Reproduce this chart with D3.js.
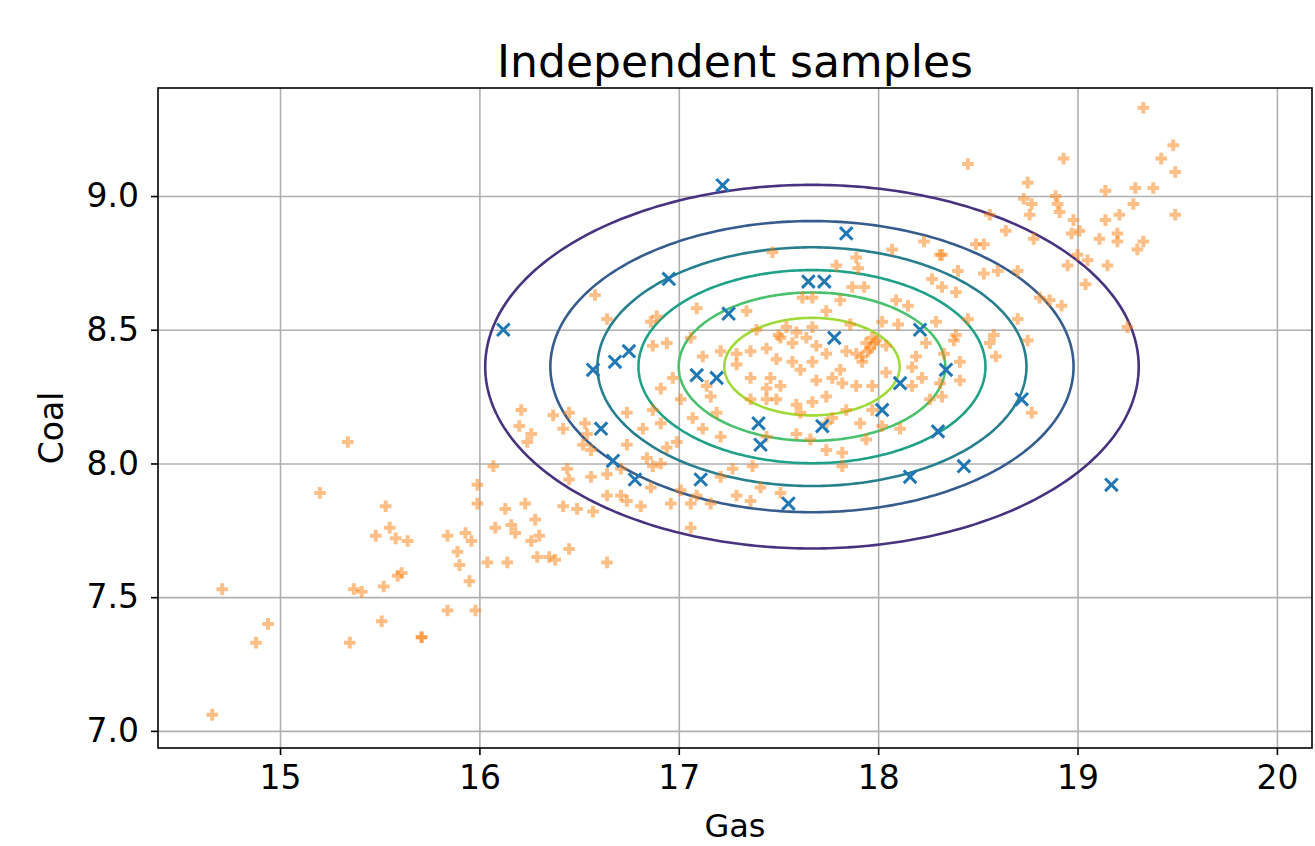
<!DOCTYPE html>
<html><head><meta charset="utf-8">
<script src="https://cdn.jsdelivr.net/npm/d3@7"></script>
<style>body{margin:0;background:#fff}svg{display:block}text{font-family:"DejaVu Sans",sans-serif;fill:#000}</style>
</head><body><svg id="c" width="1315" height="846"></svg>
<script>
const title = "Independent samples";
const xLabel = "Gas", yLabel = "Coal";
const xTicks = [15, 16, 17, 18, 19, 20];
const yTicks = [7.0, 7.5, 8.0, 8.5, 9.0];
const xDomain = [14.388, 20.176];
const yDomain = [6.936, 9.404];
// independent normal model (marginals) used for the density contours
const gasMean = 17.668, coalMean = 8.362, gasSd = 0.834, coalSd = 0.346;
const contourLevels = [0.08, 0.16, 0.24, 0.32, 0.40, 0.48];
const levelMax = 0.56;
// blue x : independent samples
const independentSamples = [[17.22,9.04],[17.84,8.86],[16.12,8.50],[16.95,8.69],[17.65,8.68],[17.73,8.68],[17.25,8.56],[17.78,8.47],[18.21,8.50],[16.57,8.35],[16.68,8.38],[16.75,8.42],[17.09,8.33],[17.19,8.32],[17.40,8.15],[17.41,8.07],[17.72,8.14],[18.02,8.20],[18.11,8.30],[18.34,8.35],[18.30,8.12],[16.61,8.13],[16.67,8.01],[16.78,7.94],[17.11,7.94],[17.55,7.85],[18.16,7.95],[18.43,7.99],[18.72,8.24],[19.17,7.92]];
// orange + : observed data
const observed = [[19.33,9.33],[19.48,9.19],[19.42,9.14],[19.49,9.09],[18.45,9.12],[18.93,9.14],[18.75,9.05],[18.73,8.99],[18.77,8.97],[18.76,8.93],[18.89,9.00],[18.90,8.97],[18.91,8.94],[18.98,8.91],[18.97,8.86],[19.01,8.87],[19.14,9.02],[19.29,9.03],[19.38,9.03],[19.28,8.97],[19.49,8.93],[19.14,8.91],[19.21,8.93],[19.11,8.84],[19.20,8.86],[19.20,8.83],[19.33,8.83],[19.30,8.80],[19.15,8.74],[19.05,8.76],[19.00,8.78],[18.95,8.74],[19.04,8.67],[18.56,8.93],[18.53,8.82],[18.49,8.82],[18.64,8.87],[18.78,8.84],[18.32,8.78],[18.40,8.72],[18.53,8.71],[18.60,8.72],[18.70,8.72],[18.32,8.66],[18.39,8.64],[18.81,8.62],[18.86,8.61],[18.92,8.59],[18.70,8.54],[18.45,8.54],[19.25,8.51],[18.39,8.48],[18.58,8.48],
[18.56,8.45],[18.59,8.40],[18.75,8.46],[18.77,8.19],[18.33,8.41],
[17.47,8.79],[16.58,8.63],[16.64,8.54],[16.89,8.55],[17.09,8.58],[17.34,8.57],[17.79,8.74],[17.89,8.77],[17.90,8.73],[17.87,8.66],[17.93,8.66],[17.81,8.61],[17.67,8.62],[17.74,8.57],[18.07,8.80],[18.23,8.83],[18.31,8.78],[18.27,8.69],[18.09,8.61],[18.15,8.59],[18.02,8.53],[18.10,8.52],[18.29,8.53],[17.50,8.48],[17.59,8.49],
[17.62,8.62],[16.94,8.45],[17.06,8.47],[17.12,8.40],[17.21,8.42],[17.29,8.41],[17.36,8.42],[17.44,8.43],[17.51,8.47],[17.57,8.45],[17.64,8.47],[17.69,8.44],[17.49,8.39],[17.57,8.38],[17.61,8.35],[17.67,8.38],[17.74,8.41],[17.84,8.42],[17.89,8.41],[17.94,8.45],[17.96,8.43],[17.92,8.38],[17.97,8.47],[18.04,8.44],[18.19,8.40],[18.24,8.45],[18.38,8.46],[18.41,8.38],[17.67,8.51],[17.54,8.51],[17.86,8.52],[17.39,8.50],[17.29,8.37],[17.36,8.32],[17.46,8.32],[17.44,8.28],[17.51,8.29],[17.69,8.31],[17.77,8.32],[17.81,8.35],[17.82,8.30],[17.89,8.29],[17.74,8.25],[17.67,8.23],[17.59,8.22],[17.49,8.24],[17.44,8.24],[17.36,8.24],[17.14,8.29],[17.16,8.25],[16.97,8.32],[16.91,8.28],[17.01,8.24],[16.87,8.44],[16.87,8.20],[17.07,8.17],[17.19,8.19],[17.61,8.19],[17.77,8.17],[17.84,8.20],[17.97,8.20],[18.04,8.34],[18.17,8.36],[18.22,8.32],[18.17,8.29],[18.31,8.30],[18.41,8.31],[17.97,8.29],[17.74,8.15],[17.91,8.15],[18.26,8.24],[16.86,8.53],[17.92,8.40],[17.95,8.42],[17.98,8.45],[17.99,8.46],
[16.45,8.19],[16.42,8.13],[16.53,8.15],[16.54,8.11],[16.52,8.07],[16.56,8.05],[16.74,8.19],[16.82,8.13],[16.91,8.15],[17.12,8.13],[17.21,8.10],[16.74,8.07],[16.84,8.02],[16.87,7.99],[16.91,8.00],[16.94,8.06],[16.99,8.08],[16.44,7.98],[16.45,7.94],[16.56,7.95],[16.64,7.96],[16.71,7.98],[16.64,7.88],[16.71,7.88],[16.74,7.86],[16.81,7.84],[16.86,7.91],[16.42,7.84],[16.49,7.83],[16.57,7.82],[16.96,7.85],[17.01,7.90],[17.06,7.85],[17.09,7.88],[17.16,7.85],[17.21,7.95],[17.27,7.98],[17.37,7.99],[17.29,7.88],[17.36,7.86],[17.06,7.76],
[17.51,7.89],[17.41,7.91],[17.44,8.10],[17.59,8.11],[17.66,8.09],[17.74,8.05],[17.82,8.04],[17.94,8.09],[17.82,7.99],[18.02,8.14],[18.11,8.13],[16.45,7.68],[16.38,7.64],[16.64,7.63],[18.32,8.25],
[15.34,8.08],[15.20,7.89],[16.21,8.20],[16.20,8.14],[16.26,8.11],[16.24,8.08],[16.37,8.18],[16.07,7.99],[15.99,7.92],[15.99,7.85],[16.13,7.83],[16.23,7.85],[16.28,7.79],[16.08,7.76],[16.16,7.77],[16.18,7.74],[16.26,7.71],[16.30,7.73],[15.53,7.84],[15.55,7.76],[15.58,7.72],[15.48,7.73],[15.64,7.71],[15.84,7.73],[15.93,7.74],[15.96,7.71],[15.89,7.67],[15.90,7.62],[16.04,7.63],[16.14,7.63],[16.29,7.65],[16.35,7.65],
[14.71,7.53],[14.94,7.40],[14.88,7.33],[14.66,7.06],[15.37,7.53],[15.41,7.52],[15.52,7.54],[15.59,7.58],[15.61,7.59],[15.95,7.56],[15.84,7.45],[15.98,7.45],[15.51,7.41],[15.35,7.33],[15.71,7.35],[15.71,7.35]];

const m = {left: 158, right: 1312, top: 88, bottom: 748};
const svg = d3.select("#c");
const x = d3.scaleLinear().domain(xDomain).range([m.left, m.right]);
const y = d3.scaleLinear().domain(yDomain).range([m.bottom, m.top]);

// grid
svg.append("g").attr("transform", `translate(0,${m.bottom})`)
  .call(d3.axisBottom(x).tickValues(xTicks).tickSize(-(m.bottom - m.top)).tickFormat(""))
  .call(g => g.select(".domain").remove())
  .call(g => g.selectAll("line").attr("stroke", "#b0b0b0").attr("stroke-width", 1.6));
svg.append("g").attr("transform", `translate(${m.left},0)`)
  .call(d3.axisLeft(y).tickValues(yTicks).tickSize(-(m.right - m.left)).tickFormat(""))
  .call(g => g.select(".domain").remove())
  .call(g => g.selectAll("line").attr("stroke", "#b0b0b0").attr("stroke-width", 1.6));

const plot = svg.append("g");
plot.append("clipPath").attr("id", "clip").append("rect")
  .attr("x", m.left).attr("y", m.top).attr("width", m.right - m.left).attr("height", m.bottom - m.top);
const inner = plot.append("g").attr("clip-path", "url(#clip)");

// contours of independent normal density
const peak = 1 / (2 * Math.PI * gasSd * coalSd);
const angles = d3.range(0, 360, 1).map(a => a * Math.PI / 180);
const ellLine = d3.line().x(d => x(d[0])).y(d => y(d[1])).curve(d3.curveLinearClosed);
contourLevels.forEach(L => {
  const r = Math.sqrt(-2 * Math.log(L / peak));
  const pts = angles.map(t => [gasMean + r * gasSd * Math.cos(t), coalMean + r * coalSd * Math.sin(t)]);
  inner.append("path").attr("d", ellLine(pts)).attr("fill", "none")
    .attr("stroke", d3.interpolateViridis(L / levelMax)).attr("stroke-width", 2.6);
});

// observed (filled plus, alpha .5)
const a = 5.8, b = 2.0;
const plusPath = `M${-a},${-b}H${-b}V${-a}H${b}V${-b}H${a}V${b}H${b}V${a}H${-b}V${b}H${-a}Z`;
inner.append("g").selectAll("path").data(observed).join("path")
  .attr("transform", d => `translate(${x(d[0])},${y(d[1])})`)
  .attr("d", plusPath).attr("fill", "#ff7f0e").attr("fill-opacity", 0.5);

// independent samples (x)
const s = 6.3;
inner.append("g").selectAll("path").data(independentSamples).join("path")
  .attr("transform", d => `translate(${x(d[0])},${y(d[1])})`)
  .attr("d", `M${-s},${-s}L${s},${s}M${-s},${s}L${s},${-s}`)
  .attr("stroke", "#1f77b4").attr("stroke-width", 3).attr("fill", "none");

// axes
const fs = 33;
svg.append("g").attr("transform", `translate(0,${m.bottom})`)
  .call(d3.axisBottom(x).tickValues(xTicks).tickSize(7).tickPadding(11).tickFormat(d3.format("d")))
  .call(g => g.select(".domain").remove())
  .call(g => g.selectAll("line").attr("stroke", "#000").attr("stroke-width", 1.6))
  .call(g => g.selectAll("text").attr("font-size", fs).attr("font-family", "DejaVu Sans").attr("fill", "#000"));
svg.append("g").attr("transform", `translate(${m.left},0)`)
  .call(d3.axisLeft(y).tickValues(yTicks).tickSize(7).tickPadding(12).tickFormat(d3.format(".1f")))
  .call(g => g.select(".domain").remove())
  .call(g => g.selectAll("line").attr("stroke", "#000").attr("stroke-width", 1.6))
  .call(g => g.selectAll("text").attr("font-size", fs).attr("font-family", "DejaVu Sans").attr("fill", "#000"));

svg.append("rect").attr("x", m.left).attr("y", m.top).attr("width", m.right - m.left).attr("height", m.bottom - m.top)
  .attr("fill", "none").attr("stroke", "#000").attr("stroke-width", 1.6);

svg.append("text").attr("x", (m.left + m.right) / 2).attr("y", 77).attr("text-anchor", "middle")
  .attr("font-size", 44).text(title);
svg.append("text").attr("x", (m.left + m.right) / 2).attr("y", 837).attr("text-anchor", "middle")
  .attr("font-size", 32).text(xLabel);
svg.append("text").attr("transform", `translate(63,${(m.top + m.bottom) / 2 + 10}) rotate(-90)`)
  .attr("text-anchor", "middle").attr("font-size", 33).text(yLabel);
</script></body></html>
